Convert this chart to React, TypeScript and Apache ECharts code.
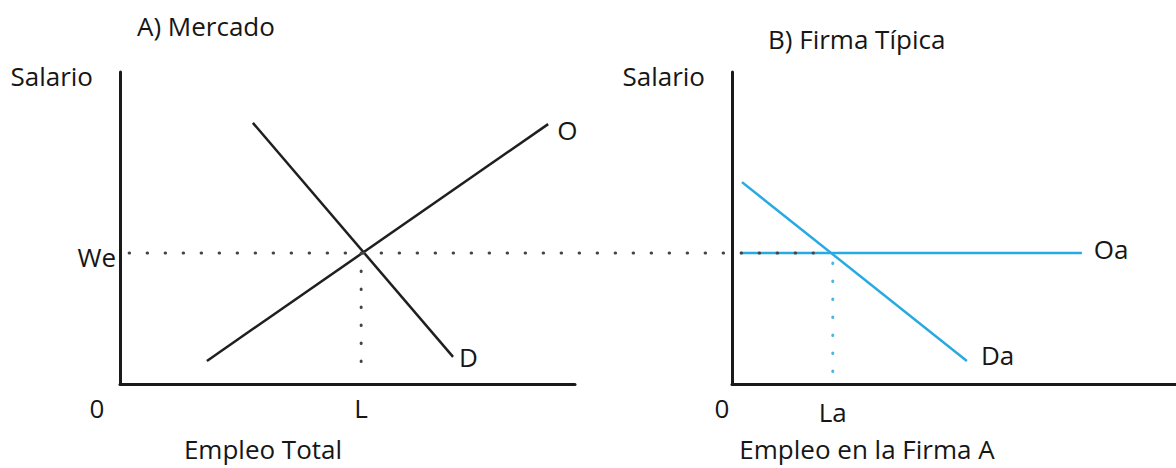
import React, { useEffect, useRef } from "react";
import * as echarts from "echarts";

// Panel A: market
const supplyO: number[][] = [[19.1, 7.4], [94.1, 83.3]];
const demandD: number[][] = [[29.2, 83.7], [73.2, 8.7]];
const wageWe = 42;
const laborL = 53;
const wageDots: number[][] = [[2.0, wageWe], [152.4, wageWe]];
const laborDots: number[][] = [[laborL, wageWe], [laborL, 7]];

// Panel B: typical firm
const firmDemandDa: number[][] = [[2.25, 64.7], [52.9, 7.4]];
const firmSupplyOa: number[][] = [[1.8, wageWe], [78.8, wageWe]];
const laborLa = 22.7;
const firmLaborDots: number[][] = [[laborLa, 38.8], [laborLa, 4]];

// Texts
const titles = ["A) Mercado", "B) Firma Típica"];
const yNames = ["Salario", "Salario"];
const xNames = ["Empleo Total", "Empleo en la Firma A"];
const xTickLabelsA = ["0", "L"];
const xTickLabelsB = ["0", "La"];
const yTickLabelA = "We";
const seriesNames = ["O", "D", "Da", "Oa"];

const FONT = '"Open Sans", sans-serif';
const TEXT = "#161616";
const BLACK = "#1f1f1f";
const BLUE = "#27aae1";
const FS = 26;

// panel A scale: 455px per 100 units; overlay grid from panel A's y-axis to the right edge
const overlayMax = (1056 / 455) * 100;

export default function App() {
  const ref = useRef<HTMLDivElement>(null);
  useEffect(() => {
    if (!ref.current) return;
    const chart = echarts.init(ref.current, undefined, { renderer: "svg" });
    const axisLine = { onZero: false, lineStyle: { color: "#1a1a1a", width: 3 } };
    const baseText = { fontFamily: FONT, fontSize: FS, color: TEXT };
    const hiddenAxis = {
      type: "value", min: 0, show: false,
      splitLine: { show: false }, axisTick: { show: false }, axisLine: { show: false }, axisLabel: { show: false },
    };
    const option: any = {
      animation: false,
      backgroundColor: "#ffffff",
      textStyle: { fontFamily: FONT },
      title: [
        { text: titles[0], left: 137, top: 13, padding: 0, textStyle: { ...baseText, fontWeight: "normal" } },
        { text: titles[1], left: 768, top: 26, padding: 0, textStyle: { ...baseText, fontWeight: "normal" } },
      ],
      grid: [
        { left: 120, top: 72, width: 455, height: 312 },
        { left: 732, top: 72, width: 444, height: 312 },
        { left: 120, top: 72, width: 1056, height: 312 },
      ],
      xAxis: [
        {
          gridIndex: 0, type: "value", min: 0, max: 100,
          splitLine: { show: false }, axisTick: { show: false }, axisLine,
          axisLabel: {
            ...baseText, margin: 11, customValues: [0, laborL],
            formatter: (v: number) => (v === 0 ? `{z|${xTickLabelsA[0]}}` : `{n|${xTickLabelsA[1]}}`),
            rich: { z: { ...baseText, padding: [0, 46, 0, 0] }, n: { ...baseText } },
          },
        },
        {
          gridIndex: 1, type: "value", min: 0, max: 100,
          splitLine: { show: false }, axisTick: { show: false }, axisLine,
          axisLabel: {
            ...baseText, margin: 11, customValues: [0, laborLa],
            formatter: (v: number) => (v === 0 ? `{z|${xTickLabelsB[0]}}` : `{n|${xTickLabelsB[1]}}`),
            rich: { z: { ...baseText, padding: [0, 20, 0, 0] }, n: { ...baseText, padding: [4, 0, 0, 0] } },
          },
        },
        { ...hiddenAxis, gridIndex: 2, max: overlayMax },
      ],
      yAxis: [
        {
          gridIndex: 0, type: "value", min: 0, max: 100,
          splitLine: { show: false }, axisTick: { show: false }, axisLine,
          name: yNames[0], nameLocation: "end", nameGap: -4,
          nameTextStyle: { ...baseText, align: "right", verticalAlign: "middle", padding: [0, 27, 0, 0] },
          axisLabel: {
            ...baseText, margin: 4, customValues: [wageWe],
            formatter: () => `{w|${yTickLabelA}}`,
            rich: { w: { ...baseText, padding: [8, 0, 0, 0] } },
          },
        },
        {
          gridIndex: 1, type: "value", min: 0, max: 100,
          splitLine: { show: false }, axisTick: { show: false }, axisLine,
          name: yNames[1], nameLocation: "end", nameGap: -4,
          nameTextStyle: { ...baseText, align: "right", verticalAlign: "middle", padding: [0, 27, 0, 0] },
          axisLabel: { show: false },
        },
        { ...hiddenAxis, gridIndex: 2, max: 100 },
      ],
      graphic: [
        { type: "text", x: 263, y: 449, style: { text: xNames[0], font: `${FS}px ${FONT}`, fill: TEXT, align: "center", verticalAlign: "middle" } },
        { type: "text", x: 867, y: 449, style: { text: xNames[1], font: `${FS}px ${FONT}`, fill: TEXT, align: "center", verticalAlign: "middle" } },
      ],
      series: [
        {
          name: seriesNames[0], type: "line", xAxisIndex: 0, yAxisIndex: 0, data: supplyO,
          symbol: "none", lineStyle: { color: BLACK, width: 2.5 },
          endLabel: { show: true, formatter: seriesNames[0], distance: 9, offset: [0, 6], ...baseText },
        },
        {
          name: seriesNames[1], type: "line", xAxisIndex: 0, yAxisIndex: 0, data: demandD,
          symbol: "none", lineStyle: { color: BLACK, width: 2.5 },
          endLabel: { show: true, formatter: seriesNames[1], distance: 6, offset: [0, 0], ...baseText },
        },
        {
          name: seriesNames[2], type: "line", xAxisIndex: 1, yAxisIndex: 1, data: firmDemandDa,
          symbol: "none", lineStyle: { color: BLUE, width: 2.5 },
          endLabel: { show: true, formatter: seriesNames[2], distance: 14, offset: [0, -6], ...baseText },
        },
        {
          name: seriesNames[3], type: "line", xAxisIndex: 1, yAxisIndex: 1, data: firmSupplyOa,
          symbol: "none", lineStyle: { color: BLUE, width: 2.5 },
          endLabel: { show: true, formatter: seriesNames[3], distance: 12, offset: [0, -4], ...baseText },
        },
        {
          name: "LaDots", type: "line", xAxisIndex: 1, yAxisIndex: 1, data: firmLaborDots,
          symbol: "none", lineStyle: { color: "#4ab6e6", width: 3, type: [0.5, 17.5], cap: "round" },
        },
        {
          name: "LDots", type: "line", xAxisIndex: 0, yAxisIndex: 0, data: laborDots,
          symbol: "none", lineStyle: { color: "#444444", width: 3, type: [0.5, 17.5], cap: "round" },
        },
        {
          name: "WeDots", type: "line", xAxisIndex: 2, yAxisIndex: 2, data: wageDots, z: 5,
          symbol: "none", lineStyle: { color: "#444444", width: 3, type: [0.5, 17.5], cap: "round" },
        },
      ],
    };
    chart.setOption(option);
    return () => chart.dispose();
  }, []);
  return (
    <div
      ref={ref}
      style={{ position: "fixed", left: 0, top: 0, width: 1176, height: 468, background: "#fff" }}
    />
  );
}
